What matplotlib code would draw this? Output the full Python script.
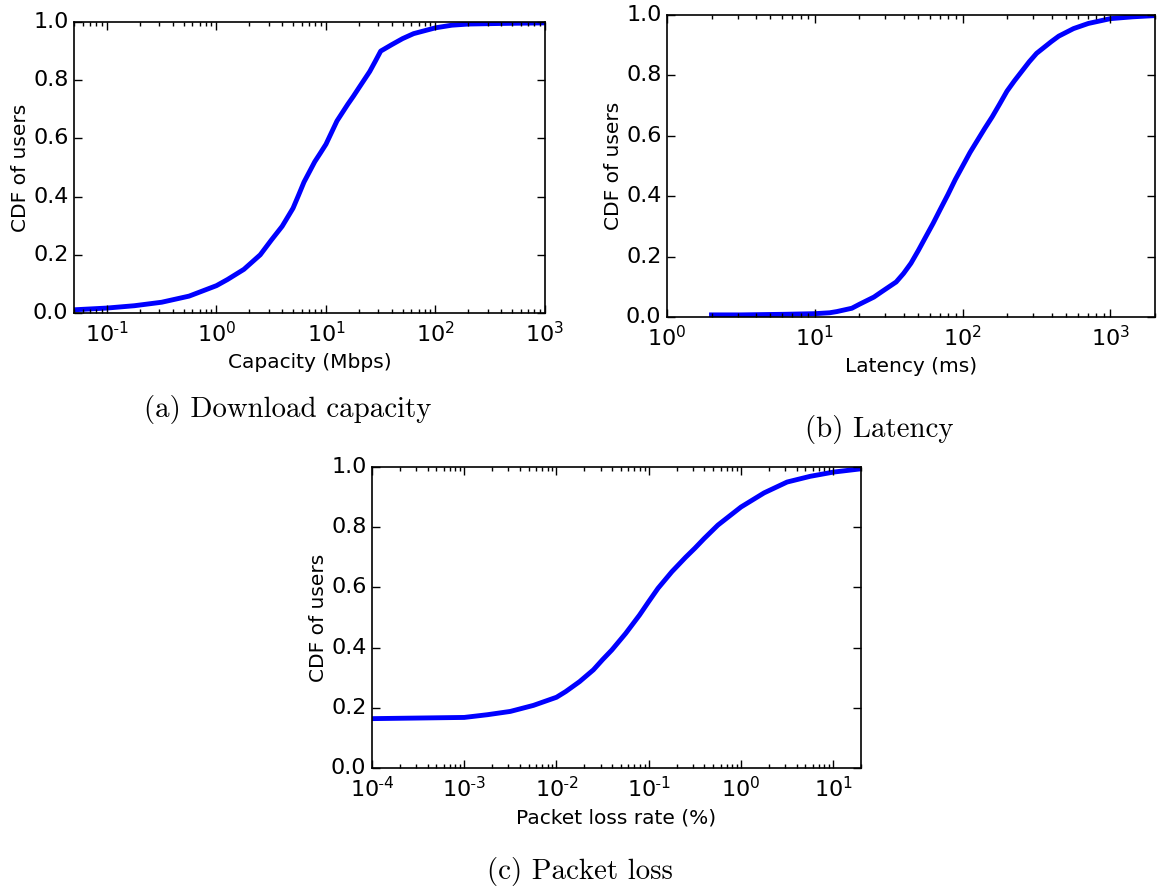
import matplotlib
matplotlib.use("Agg")
import matplotlib.pyplot as plt
from matplotlib.ticker import FuncFormatter
import numpy as np

# CDF values (x on a log scale)
cap_mbps = [0.05, 0.056, 0.1, 0.178, 0.316, 0.562, 1.0, 1.26, 1.78, 2.51, 3.16, 3.98, 5.0, 5.62,
            6.3, 7.9, 8.9, 10.0, 12.6, 15.8, 17.8, 20.0, 25.1, 28.2, 31.6, 39.8, 50.1, 63.1, 79.4,
            100.0, 141.0, 200.0, 398.0, 1000.0]
cap_cdf = [0.011, 0.012, 0.017, 0.025, 0.037, 0.058, 0.094, 0.115, 0.15, 0.20, 0.25, 0.298, 0.36,
           0.405, 0.45, 0.52, 0.55, 0.58, 0.66, 0.717, 0.745, 0.774, 0.83, 0.865, 0.90, 0.922,
           0.943, 0.96, 0.97, 0.98, 0.989, 0.993, 0.995, 0.997]

lat_ms = [2.0, 3.16, 6.3, 10.0, 12.6, 14.1, 17.8, 20.0, 25.1, 28.2, 35.5, 39.8, 44.7, 50.1, 56.2,
          63.1, 70.8, 79.4, 89.1, 100.0, 112.2, 125.9, 141.3, 158.5, 177.8, 199.5, 223.9, 281.8,
          316.2, 398.1, 446.7, 562.3, 707.9, 1000.0, 1412.5, 2000.0]
lat_cdf = [0.007, 0.007, 0.009, 0.011, 0.014, 0.018, 0.029, 0.042, 0.066, 0.083, 0.116, 0.144,
           0.178, 0.22, 0.265, 0.31, 0.358, 0.405, 0.455, 0.50, 0.545, 0.585, 0.625, 0.663, 0.705,
           0.748, 0.782, 0.845, 0.873, 0.912, 0.930, 0.955, 0.972, 0.988, 0.994, 0.998]

loss_pct = [1e-4, 3.16e-4, 1e-3, 1.78e-3, 3.16e-3, 5.62e-3, 1e-2, 1.26e-2, 1.78e-2, 2.51e-2,
            3.16e-2, 3.98e-2, 5.62e-2, 7.94e-2, 0.1, 0.126, 0.178, 0.251, 0.316, 0.398, 0.562,
            1.0, 1.78, 3.16, 5.62, 10.0, 20.0]
loss_cdf = [0.164, 0.166, 0.168, 0.177, 0.188, 0.208, 0.235, 0.254, 0.287, 0.326, 0.36, 0.392,
            0.447, 0.508, 0.553, 0.597, 0.652, 0.70, 0.73, 0.762, 0.807, 0.867, 0.914, 0.95,
            0.969, 0.983, 0.994]

plt.style.use("classic")
plt.rcParams["axes.unicode_minus"] = False
plt.rcParams["font.family"] = ["DejaVu Sans"]

W, H = 1157, 890
fig = plt.figure(figsize=(W / 100, H / 100), dpi=100, facecolor="white")


def px_axes(left, top, right, bottom):
    return fig.add_axes([left / W, 1 - bottom / H, (right - left) / W, (bottom - top) / H])


def log_label(val, pos):
    e = int(round(np.log10(val)))
    if e < 0:
        return r"$\mathdefault{10^{\text{-}%d}}$" % (-e)
    return r"$\mathdefault{10^{%d}}$" % e


def style(ax, xlabel):
    ax.set_xscale("log")
    ax.xaxis.set_major_formatter(FuncFormatter(log_label))
    ax.set_ylim(0, 1.0)
    ax.set_yticks([0.0, 0.2, 0.4, 0.6, 0.8, 1.0])
    ax.set_ylabel("CDF of users", fontsize=14.5, labelpad=2)
    ax.set_xlabel(xlabel, fontsize=14.5)
    ax.tick_params(which="both", direction="in", top=True, right=True, labelsize=16)
    ax.tick_params(which="major", length=6, width=1)
    ax.tick_params(which="minor", length=3, width=1)
    ax.tick_params(axis="x", pad=6)
    for s in ax.spines.values():
        s.set_linewidth(1.2)


ax_a = px_axes(74, 22, 545, 313)
ax_a.plot(cap_mbps, cap_cdf, color="blue", linewidth=3.5)
style(ax_a, "Capacity (Mbps)")
ax_a.set_xlim(0.05, 1000)

ax_b = px_axes(667, 15, 1155, 317)
ax_b.plot(lat_ms, lat_cdf, color="blue", linewidth=3.5)
style(ax_b, "Latency (ms)")
ax_b.set_xlim(1, 2000)

ax_c = px_axes(372, 467, 861, 768)
ax_c.plot(loss_pct, loss_cdf, color="blue", linewidth=3.5)
style(ax_c, "Packet loss rate (%)")
ax_c.set_xlim(1e-4, 20)

cap_font = dict(family=["cmr10", "DejaVu Serif"], fontsize=20.8, ha="center", va="center")
fig.text(288 / W, 1 - 410 / H, "(a) Download capacity", **cap_font)
fig.text(879 / W, 1 - 429 / H, "(b) Latency", **cap_font)
fig.text(580 / W, 1 - 871 / H, "(c) Packet loss", **cap_font)

fig.savefig("out.png", dpi=100, facecolor="white")
